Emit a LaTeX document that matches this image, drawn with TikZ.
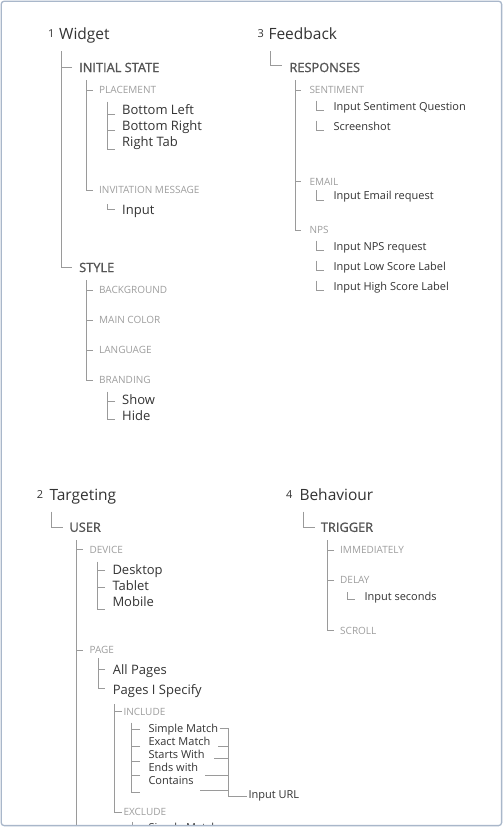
\documentclass[tikz,border=0pt]{standalone}
\usepackage{fontspec}
\setmainfont{Open Sans}
\newfontfamily\semibfont[FakeBold=1.3]{Open Sans}
\usetikzlibrary{calc}
\definecolor{cDark}{HTML}{333333}
\definecolor{cMid}{HTML}{555555}
\definecolor{cLight}{HTML}{9E9E9E}
\definecolor{cLine}{HTML}{9A9A9A}
\definecolor{cFrame}{HTML}{A9B7CA}
\begin{document}
\begin{tikzpicture}[x=1pt,y=-1pt,
  ln/.style={draw=cLine, line width=0.8pt},
  tbase/.style={anchor=west, inner sep=0pt, text depth=0pt},
  t0/.style={tbase, text=cDark, font=\fontsize{15.5}{18}\selectfont, text height=11.1pt},
  nm/.style={tbase, text=cDark, font=\fontsize{11}{13}\selectfont, text height=7.9pt},
  t1/.style={tbase, text=cMid, font=\semibfont\fontsize{12.8}{15}\selectfont, text height=9.1pt},
  t2/.style={tbase, text=cLight, font=\fontsize{10}{12}\selectfont, text height=7.1pt},
  ti/.style={tbase, text=cDark, font=\fontsize{13}{15}\selectfont, text height=9.3pt},
  ts/.style={tbase, text=cDark, font=\fontsize{11}{13}\selectfont, text height=7.9pt}]
\useasboundingbox (0,0) rectangle (503,827);
\fill[white] (0,0) rectangle (503,827);
\begin{scope}
\clip (1.2,1.2) rectangle (501.6,825.6);
% ---------------- Widget
\node[nm] (n1) at (48,34) {1};
\node[t0] (widget) at (59,34) {Widget};
\coordinate (wTop) at (61.7,51);
\node[t1] (initstate) at (79,67.5) {INITIAL STATE};
\node[t1] (style) at (79,267.5) {STYLE};
\draw[ln] (wTop) |- ([xshift=-7pt]style.west);
\draw[ln] ([xshift=-7pt]initstate.west) -- ++(-10.3,0);
\coordinate (isTop) at (86,80);
\node[t2] (placement) at (99,90) {PLACEMENT};
\node[t2] (invmsg) at (99,190) {INVITATION MESSAGE};
\draw[ln] (isTop) |- ([xshift=-6.5pt]invmsg.west);
\draw[ln] ([xshift=-6.5pt]placement.west) -- ++(-6.5,0);
\coordinate (plTop) at (107.3,101.7);
\node[ti] (bl) at (122,109.5) {Bottom Left};
\node[ti] (br) at (122,125.5) {Bottom Right};
\node[ti] (rt) at (122,141.5) {Right Tab};
\draw[ln] (plTop) |- ([shift={(-7,8)}]rt.west);
\draw[ln] ([shift={(-7,5)}]bl.west) -- ++(-7.7,0);
\draw[ln] ([shift={(-7,4.5)}]br.west) -- ++(-7.7,0);
\coordinate (inTop) at (107.3,204);
\node[ti] (input1) at (122,209.5) {Input};
\draw[ln] (inTop) |- ([xshift=-7pt]input1.west);
\coordinate (stTop) at (86,280);
\node[t2] (background) at (99,290) {BACKGROUND};
\node[t2] (maincolor) at (99,320) {MAIN COLOR};
\node[t2] (language) at (99,350) {LANGUAGE};
\node[t2] (branding) at (99,380) {BRANDING};
\draw[ln] (stTop) |- ([xshift=-6.5pt]branding.west);
\foreach \n in {background,maincolor,language}
  \draw[ln] ([xshift=-6.5pt]\n.west) -- ++(-6.5,0);
\coordinate (bdTop) at (107.3,391.7);
\node[ti] (show) at (122,399.5) {Show};
\node[ti] (hide) at (122,415.5) {Hide};
\draw[ln] (bdTop) |- ([shift={(-7,4)}]hide.west);
\draw[ln] ([shift={(-7,1.5)}]show.west) -- ++(-7.7,0);
% ---------------- Feedback
\node[nm] (n3) at (257.3,34) {3};
\node[t0] (feedback) at (268.3,34) {Feedback};
\coordinate (fTop) at (270.7,51);
\node[t1] (responses) at (289.3,67.5) {RESPONSES};
\draw[ln] (fTop) |- ([shift={(-7,-2.5)}]responses.west);
\coordinate (rTop) at (295,80);
\node[t2] (sentiment) at (309.3,90) {SENTIMENT};
\node[t2] (email) at (309.3,181.5) {EMAIL};
\node[t2] (nps) at (309.3,230) {NPS};
\draw[ln] (rTop) |- ([xshift=-8.8pt]nps.west);
\draw[ln] ([xshift=-8.8pt]sentiment.west) -- ++(-5.5,0);
\draw[ln] ([xshift=-8.8pt]email.west) -- ++(-5.5,0);
\node[ts] (isq) at (333.3,106.5) {Input Sentiment Question};
\node[ts] (shot) at (333.3,126.5) {Screenshot};
\node[ts] (ier) at (333.3,196) {Input Email request};
\node[ts] (inr) at (333.3,246.5) {Input NPS request};
\node[ts] (ilsl) at (333.3,266.5) {Input Low Score Label};
\node[ts] (ihsl) at (333.3,286.5) {Input High Score Label};
\foreach \n in {isq,shot,ier,inr,ilsl,ihsl}
  \draw[ln] ([shift={(-16.6,-6)}]\n.west) |- ([shift={(-9.3,4)}]\n.west);
% ---------------- Targeting
\node[nm] (n2) at (36.7,495) {2};
\node[t0] (targeting) at (49.3,494.5) {Targeting};
\coordinate (tTop) at (51.7,511.7);
\node[t1] (user) at (69.3,527.3) {USER};
\draw[ln] (tTop) |- ([xshift=-6pt]user.west);
\coordinate (uTop) at (76,540);
\coordinate (uBot) at (76,832);
\draw[ln] (uTop) -- (uBot);
\node[t2] (device) at (89.3,549.5) {DEVICE};
\node[t2] (page) at (89.3,650) {PAGE};
\draw[ln] ([xshift=-6.6pt]device.west) -- ++(-6.7,0);
\draw[ln] ([xshift=-6.6pt]page.west) -- ++(-6.7,0);
\coordinate (dTop) at (97.7,561.7);
\node[ti] (desktop) at (112.3,569.5) {Desktop};
\node[ti] (tablet) at (112.3,585.5) {Tablet};
\node[ti] (mobile) at (112.3,601.5) {Mobile};
\draw[ln] (dTop) |- ([shift={(-7.3,8)}]mobile.west);
\draw[ln] ([shift={(-7.3,1)}]desktop.west) -- ++(-7.3,0);
\draw[ln] ([shift={(-7.3,1.5)}]tablet.west) -- ++(-7.3,0);
\coordinate (pTop) at (98.3,658.3);
\node[ti] (allpages) at (112.7,669.5) {All Pages};
\node[ti] (pagesis) at (112.7,689.5) {Pages I Specify};
\draw[ln] (pTop) |- ([shift={(-7.7,-1)}]pagesis.west);
\draw[ln] ([shift={(-7.7,0)}]allpages.west) -- ++(-6.7,0);
\coordinate (iTop) at (114,704);
\node[t2] (include) at (123.3,711.7) {INCLUDE};
\node[t2] (exclude) at (123.3,812) {EXCLUDE};
\draw[ln] (iTop) |- ([xshift=-1.6pt]exclude.west);
\draw[ln] ([xshift=-1.6pt]include.west) -- ++(-7.7,0);
\coordinate (incTop) at (131.7,722.7);
\node[ts] (sm) at (148.3,729) {Simple Match};
\node[ts] (em) at (148.3,742) {Exact Match};
\node[ts] (sw) at (148.3,755) {Starts With};
\node[ts] (ew) at (148.3,768) {Ends with};
\node[ts] (ct) at (148.3,781) {Contains};
\draw[ln] (incTop) |- ([shift={(-8.3,11.3)}]ct.west);
\draw[ln] ([shift={(-8.3,0)}]sm.west) -- ++(-8.3,0);
\draw[ln] ([shift={(-8.3,4.5)}]em.west) -- ++(-8.3,0);
\draw[ln] ([shift={(-8.3,6.5)}]sw.west) -- ++(-8.3,0);
\draw[ln] ([shift={(-8.3,7)}]ew.west) -- ++(-8.3,0);
\node[ts] (url) at (248.3,795) {Input URL};
\coordinate (jb) at (228.3,796.7);
\coordinate (smR) at (219.5,728.3);
\coordinate (emR) at (218.3,746);
\coordinate (swR) at (214,758.3);
\coordinate (ewR) at (205,775);
\coordinate (ctR) at (200,790);
\draw[ln] (smR) -| (jb) -- ([shift={(-1.6,1.7)}]url.west);
\foreach \c in {emR,swR,ewR,ctR}
  \draw[ln] (\c) -- (\c -| jb);
\coordinate (exTop) at (132.7,821.7);
\coordinate (exBot) at (132.7,832);
\draw[ln] (exTop) -- (exBot);
\node[ts] (sm2) at (148.3,828) {Simple Match};
% ---------------- Behaviour
\node[nm] (n4) at (286,495) {4};
\node[t0] (behaviour) at (299.3,494.5) {Behaviour};
\coordinate (bTop) at (303.3,511.7);
\node[t1] (trigger) at (320.7,527.3) {TRIGGER};
\draw[ln] (bTop) |- ([xshift=-5.7pt]trigger.west);
\coordinate (trTop) at (327.3,540);
\node[t2] (immediately) at (340,550) {IMMEDIATELY};
\node[t2] (delay) at (340,580) {DELAY};
\node[t2] (scroll) at (340,630.5) {SCROLL};
\draw[ln] (trTop) |- ([xshift=-6pt]scroll.west);
\draw[ln] ([xshift=-6pt]immediately.west) -- ++(-6.7,0);
\draw[ln] ([xshift=-6pt]delay.west) -- ++(-6.7,0);
\coordinate (dlTop) at (347.3,592.3);
\node[ts] (inputsec) at (364.3,596.7) {Input seconds};
\draw[ln] (dlTop) |- ([shift={(-9.3,2.6)}]inputsec.west);
\end{scope}
\draw[cFrame, line width=1.3pt, rounded corners=3pt] (1.2,1.2) rectangle (501.6,825.6);
\end{tikzpicture}
\end{document}
